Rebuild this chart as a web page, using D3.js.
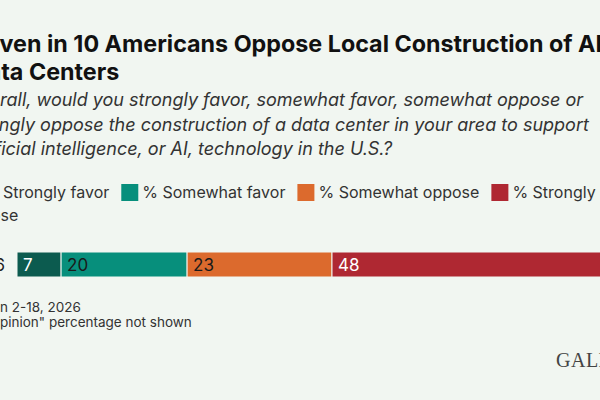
<!DOCTYPE html>
<meta charset="utf-8">
<style>
body { margin: 0; background: #f1f6f1; }
svg { display: block; font-family: Inter, "Noto Sans", sans-serif; }
.title { font-weight: 700; font-size: 23.3px; fill: #111; }
.subtitle { font-style: italic; font-size: 18px; fill: #333; }
.legend text { font-size: 16px; fill: #333; }
.bar-label { font-size: 17px; }
.note { font-size: 13.5px; fill: #333; }
</style>
<svg width="600" height="400"></svg>
<script src="https://d3js.org/d3.v7.min.js"></script>
<script>

var categories = ["% Strongly favor", "% Somewhat favor", "% Somewhat oppose", "% Strongly oppose"];
var colors = ["#0c5b4f", "#078f7c", "#dc6a2d", "#af2832"];
var labelColors = ["#fff", "#1a1a1a", "#1a1a1a", "#fff"];
var years = ["2026"];
var values = [7, 20, 23, 48];

var titleLines = ["Seven in 10 Americans Oppose Local Construction of AI", "Data Centers"];
var subtitleLines = [
  "Overall, would you strongly favor, somewhat favor, somewhat oppose or",
  "strongly oppose the construction of a data center in your area to support",
  "artificial intelligence, or AI, technology in the U.S.?"
];
var notes = ["Jan 2-18, 2026", "\"No opinion\" percentage not shown"];

var svg = d3.select("svg"),
    width = +svg.attr("width"),
    height = +svg.attr("height");

svg.append("rect").attr("width", width).attr("height", height).attr("fill", "#f1f6f1");

// the picture is a crop of a wider chart: work out where the left margin sits
function measure(str, cls) {
  var t = svg.append("text").attr("class", cls).text(str);
  var w = t.node().getComputedTextLength();
  t.remove();
  return w;
}

var right = 647;

var titleX = -measure("Se", "title");
svg.selectAll(".title")
  .data(titleLines)
  .enter().append("text")
    .attr("class", "title")
    .attr("x", titleX)
    .attr("y", function(d, i) { return 52 + i * 28; })
    .text(function(d) { return d; });

var subX = -measure("Ove", "subtitle");
svg.selectAll(".subtitle")
  .data(subtitleLines)
  .enter().append("text")
    .attr("class", "subtitle")
    .attr("x", subX)
    .attr("y", function(d, i) { return 106 + i * 24.5; })
    .text(function(d) { return d; });

// legend, flowed like inline html
var legend = svg.append("g").attr("class", "legend");
var wordGap = 4.5;
var lt = legend.append("text").text("%");
var legX = 3 - 21 - lt.node().getComputedTextLength() - wordGap;
lt.remove();
var lx = legX, ly = 198, lineH = 23;
categories.forEach(function(c, i) {
  if (lx + 17 > right) { lx = legX; ly += lineH; }
  legend.append("rect")
    .attr("x", lx).attr("y", ly - 14)
    .attr("width", 17).attr("height", 17)
    .attr("fill", colors[i]);
  lx += 21;
  var words = c.split(" ");
  words.forEach(function(w, j) {
    var t = legend.append("text").attr("x", lx).attr("y", ly).text(w);
    var wl = t.node().getComputedTextLength();
    if (lx + wl > right) {
      lx = legX; ly += lineH;
      t.attr("x", lx).attr("y", ly);
    }
    lx += wl + wordGap;
  });
  lx += 7.5;
});

var x = d3.scaleLinear().domain([0, 100]).range([17, right]);
var y = d3.scaleBand().domain(years).range([252, 277]);

var stack = [];
var acc = 0;
values.forEach(function(v, i) {
  stack.push({start: acc, end: acc + v, value: v, i: i});
  acc += v;
});

var bars = svg.append("g");
bars.selectAll("rect")
  .data(stack)
  .enter().append("rect")
    .attr("x", function(d) { return x(d.start); })
    .attr("y", y("2026"))
    .attr("width", function(d) { return x(d.end) - x(d.start); })
    .attr("height", y.bandwidth())
    .attr("fill", function(d) { return colors[d.i]; })
    .attr("stroke", "#f1f6f1")
    .attr("stroke-width", 1);

bars.selectAll("text")
  .data(stack)
  .enter().append("text")
    .attr("class", "bar-label")
    .attr("x", function(d) { return x(d.start) + 6; })
    .attr("y", y("2026") + y.bandwidth() / 2 + 6)
    .attr("fill", function(d) { return labelColors[d.i]; })
    .text(function(d) { return d.value; });

svg.append("text")
  .attr("class", "bar-label")
  .attr("x", 5)
  .attr("y", y("2026") + y.bandwidth() / 2 + 6)
  .attr("text-anchor", "end")
  .attr("fill", "#222")
  .text(years[0]);

var noteCut = ["Ja", "\"No o"];
svg.selectAll(".note")
  .data(notes)
  .enter().append("text")
    .attr("class", "note")
    .attr("x", function(d, i) { return -measure(noteCut[i], "note"); })
    .attr("y", function(d, i) { return 312 + i * 14.5; })
    .text(function(d) { return d; });

svg.append("text")
  .attr("x", 556)
  .attr("y", 367)
  .attr("font-family", "'Liberation Serif', 'DejaVu Serif', serif")
  .attr("font-size", 20)
  .attr("letter-spacing", 0.5)
  .attr("fill", "#444")
  .text("GALLUP");

</script>
